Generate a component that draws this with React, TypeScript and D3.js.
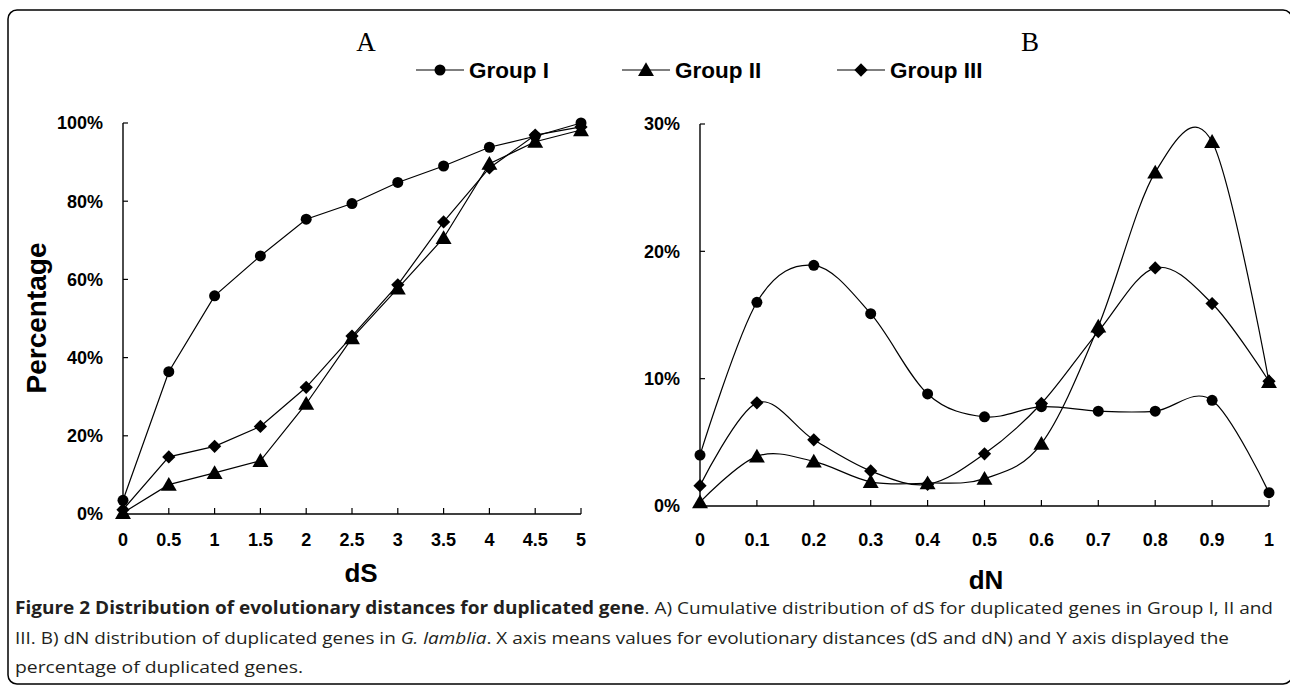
import React from 'react';
import * as d3 from 'd3';

// dS 累积分布 (A) 与 dN 分布 (B)，数值为百分比
const dsTicks = [0, 0.5, 1, 1.5, 2, 2.5, 3, 3.5, 4, 4.5, 5];
const groupIdS = [3.5, 36.4, 55.8, 66.0, 75.4, 79.4, 84.8, 89.0, 93.8, 96.6, 100];
const groupIIdS = [0.3, 7.5, 10.5, 13.6, 28.2, 45.0, 57.7, 70.6, 89.6, 95.2, 98.2];
const groupIIIdS = [1.1, 14.6, 17.3, 22.4, 32.4, 45.5, 58.6, 74.7, 88.5, 96.9, 99.0];

const dnTicks = [0, 0.1, 0.2, 0.3, 0.4, 0.5, 0.6, 0.7, 0.8, 0.9, 1];
const groupIdN = [4.0, 16.0, 18.9, 15.1, 8.8, 7.0, 7.8, 7.45, 7.45, 8.3, 1.05];
const groupIIdN = [0.3, 3.9, 3.5, 1.9, 1.8, 2.15, 4.9, 14.1, 26.2, 28.6, 9.75];
const groupIIIdN = [1.6, 8.1, 5.2, 2.75, 1.7, 4.1, 8.05, 13.7, 18.7, 15.9, 9.8];

const yTicksA = [0, 20, 40, 60, 80, 100];
const yTicksB = [0, 10, 20, 30];

const groupNames = ['Group I', 'Group II', 'Group III'];

const FONT = '"Liberation Sans", Arial, sans-serif';

// 标记：圆点、三角、菱形（旋转的正方形）
const markerPath = (i: number) => {
  if (i === 0) return d3.symbol().type(d3.symbolCircle).size(95)() || '';
  if (i === 1) return d3.symbol().type(d3.symbolTriangle).size(110)() || '';
  return d3.symbol().type(d3.symbolSquare).size(88)() || '';
};
const markerTransform = (i: number, cx: number, cy: number) =>
  i === 1 ? `translate(${cx},${cy + 1.5})` : i === 2 ? `translate(${cx},${cy}) rotate(45)` : `translate(${cx},${cy})`;

type PanelProps = {
  xs: number[];
  series: number[][];
  yTicks: number[];
  xRange: [number, number];
  yRange: [number, number];
  yMax: number;
  smooth: boolean;
  xLabel: string;
  xLabelX: number;
  xLabelY: number;
};

const Panel: React.FC<PanelProps> = ({ xs, series, yTicks, xRange, yRange, yMax, smooth, xLabel, xLabelX, xLabelY }) => {
  const x = d3.scaleLinear().domain([xs[0], xs[xs.length - 1]]).range(xRange);
  const y = d3.scaleLinear().domain([0, yMax]).range(yRange);
  const line = d3.line<number>()
    .x((_, i) => x(xs[i]))
    .y(d => y(d))
    .curve(smooth ? d3.curveCardinal.tension(0) : d3.curveLinear);

  return (
    <g>
      {/* 坐标轴 */}
      <line x1={xRange[0]} x2={xRange[0]} y1={yRange[0]} y2={yRange[1]} stroke="#000" strokeWidth={1.4} />
      <line x1={xRange[0]} x2={xRange[1]} y1={yRange[0]} y2={yRange[0]} stroke="#000" strokeWidth={1.4} />
      {yTicks.map(t => (
        <g key={'y' + t}>
          <line x1={xRange[0]} x2={xRange[0] + 5} y1={y(t)} y2={y(t)} stroke="#000" strokeWidth={1.2} />
          <text x={xRange[0] - 20} y={y(t)} dy="0.35em" textAnchor="end" fontSize={18} fontWeight="bold"
            fontFamily={FONT}>{t + '%'}</text>
        </g>
      ))}
      {xs.map(t => (
        <g key={'x' + t}>
          <line x1={x(t)} x2={x(t)} y1={yRange[0]} y2={yRange[0] - 6} stroke="#000" strokeWidth={1.2} />
          <text x={x(t)} y={540} dy="0.35em" textAnchor="middle" fontSize={18} fontWeight="bold"
            fontFamily={FONT}>{String(t)}</text>
        </g>
      ))}
      <text x={xLabelX} y={xLabelY} textAnchor="middle" fontSize={26} fontWeight="bold" fontFamily={FONT}>{xLabel}</text>

      {/* 折线与标记 */}
      {series.map((vals, si) => (
        <g key={'s' + si}>
          <path d={line(vals) || ''} fill="none" stroke="#000" strokeWidth={1.2} />
          {vals.map((v, i) => (
            <path key={i} d={markerPath(si)} transform={markerTransform(si, x(xs[i]), y(v))} fill="#000" />
          ))}
        </g>
      ))}
    </g>
  );
};

const legendX = [416, 622, 837];

export default function App() {
  return (
    <svg width={1290} height={686} style={{ position: 'absolute', left: 0, top: 0, background: '#fff' }}>
      <rect x={8} y={10} width={1284} height={674} rx={9} fill="#fff" stroke="#000" strokeWidth={1.5} />

      <text x={366} y={51} textAnchor="middle" fontSize={27} fontFamily='"Liberation Serif", "Times New Roman", serif'>A</text>
      <text x={1030} y={51} textAnchor="middle" fontSize={27} fontFamily='"Liberation Serif", "Times New Roman", serif'>B</text>

      {/* 图例 */}
      {groupNames.map((name, i) => (
        <g key={name}>
          <line x1={legendX[i]} x2={legendX[i] + 48} y1={70} y2={70} stroke="#000" strokeWidth={1.2} />
          <path d={markerPath(i)} transform={markerTransform(i, legendX[i] + 24, 70)} fill="#000" />
          <text x={legendX[i] + 53} y={70} dy="0.35em" fontSize={22.5} fontWeight="bold" fontFamily={FONT}>{name}</text>
        </g>
      ))}

      <text transform="translate(46,318) rotate(-90)" textAnchor="middle" fontSize={28} fontWeight="bold"
        fontFamily={FONT}>Percentage</text>

      <Panel xs={dsTicks} series={[groupIdS, groupIIdS, groupIIIdS]} yTicks={yTicksA}
        xRange={[123, 581]} yRange={[514, 123]} yMax={100} smooth={false}
        xLabel="dS" xLabelX={361} xLabelY={582} />
      <Panel xs={dnTicks} series={[groupIdN, groupIIdN, groupIIIdN]} yTicks={yTicksB}
        xRange={[700, 1269]} yRange={[506, 124]} yMax={30} smooth={true}
        xLabel="dN" xLabelX={986} xLabelY={589} />

      {/* 图注 */}
      <g fontFamily='"Open Sans", sans-serif' fontSize={17} fill="#231f20">
        <text x={15} y={614} textLength={1258} lengthAdjust="spacingAndGlyphs">
          <tspan fontWeight="bold">Figure 2 Distribution of evolutionary distances for duplicated gene</tspan>
          <tspan>. A) Cumulative distribution of dS for duplicated genes in Group I, II and</tspan>
        </text>
        <text x={15} y={644} textLength={1214} lengthAdjust="spacingAndGlyphs">
          <tspan>III. B) dN distribution of duplicated genes in </tspan>
          <tspan fontStyle="italic">G. lamblia</tspan>
          <tspan>. X axis means values for evolutionary distances (dS and dN) and Y axis displayed the</tspan>
        </text>
        <text x={15} y={673} textLength={288} lengthAdjust="spacingAndGlyphs">percentage of duplicated genes.</text>
      </g>
    </svg>
  );
}
